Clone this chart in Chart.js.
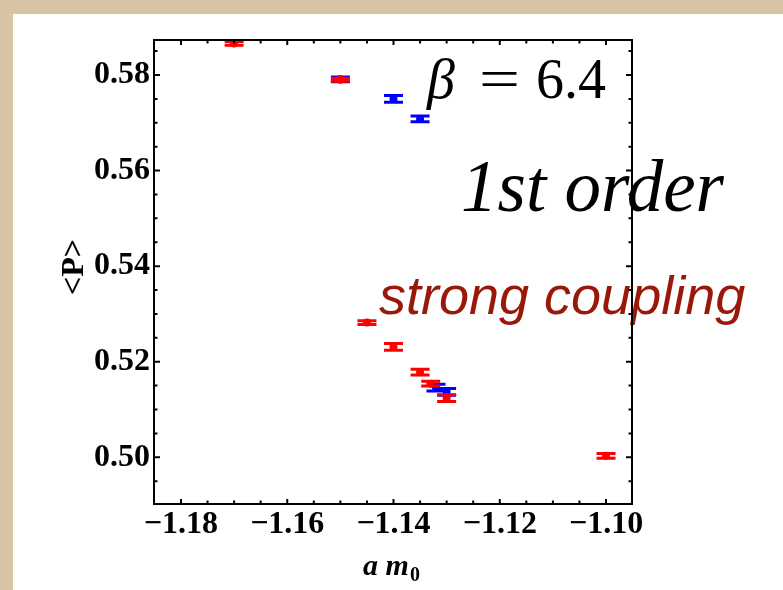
<!DOCTYPE html>
<html>
<head>
<meta charset="utf-8">
<script src="https://cdn.jsdelivr.net/npm/chart.js@4.4.1/dist/chart.umd.min.js"></script>
<style>
  html, body { margin: 0; padding: 0; }
  body { width: 783px; height: 590px; background: #d7c4a4; position: relative; overflow: hidden; }
  #page { position: absolute; left: 13px; top: 14px; width: 770px; height: 576px; background: #ffffff; }
  #plaquette { display: block; }
</style>
</head>
<body>
<div id="page">
  <canvas id="plaquette" width="770" height="576"></canvas>
</div>
<script>
// plaquette moyenne <P> en fonction de a m0, beta = 6.4
var redX   = [-1.17, -1.15, -1.145, -1.14, -1.135, -1.133, -1.13, -1.10];
var redP   = [0.5866, 0.5790, 0.5282, 0.5231, 0.5178, 0.5154, 0.5124, 0.5003];
var redErr = [0.0004, 0.0003, 0.0004, 0.0007, 0.0006, 0.0005, 0.0007, 0.0005];

var blueX   = [-1.15, -1.14, -1.135, -1.132, -1.13];
var blueP   = [0.5791, 0.5750, 0.5708, 0.5146, 0.5137];
var blueErr = [0.0005, 0.0007, 0.0006, 0.0007, 0.0007];

var xTicks = [-1.18, -1.16, -1.14, -1.12, -1.10];
var yTicks = [0.50, 0.52, 0.54, 0.56, 0.58];

var serif = "'Liberation Serif', 'Times New Roman', serif";
var sans = "'Liberation Sans', Arial, sans-serif";

function points(xs, ys) {
    return xs.map(function (x, i) { return { x: x, y: ys[i] }; });
}

function fmt(v) {
    var s = Math.abs(v).toFixed(2);
    return v < 0 ? '\u2212' + s : s;
}

// barres d'erreur, dessinees juste avant les points de chaque serie
var errorBars = {
    id: 'errorBars',
    beforeDatasetDraw: function (chart, args) {
        var ds = chart.data.datasets[args.index];
        var ctx = chart.ctx;
        var xs = chart.scales.x, ys = chart.scales.y;
        ctx.save();
        ctx.strokeStyle = ds.borderColor;
        ctx.lineWidth = 3;
        ds.data.forEach(function (p, i) {
            var px = xs.getPixelForValue(p.x);
            var top = ys.getPixelForValue(p.y + ds.errors[i]);
            var bot = ys.getPixelForValue(p.y - ds.errors[i]);
            ctx.beginPath();
            ctx.moveTo(px, top); ctx.lineTo(px, bot);
            ctx.moveTo(px - 9.5, top); ctx.lineTo(px + 9.5, top);
            ctx.moveTo(px - 9.5, bot); ctx.lineTo(px + 9.5, bot);
            ctx.stroke();
        });
        ctx.restore();
    }
};

// textes, cadre et graduations dans le style Mathematica
var frame = {
    id: 'frame',
    afterDatasetsDraw: function (chart) {
        var ctx = chart.ctx;
        ctx.save();
        ctx.textAlign = 'left';
        ctx.textBaseline = 'alphabetic';

        ctx.fillStyle = '#000';
        ctx.font = 'italic 56px ' + serif;
        ctx.fillText('\u03b2', 414, 84);
        ctx.font = '56px ' + serif;
        ctx.save();
        ctx.translate(466, 84);
        ctx.scale(1.3, 1);
        ctx.fillText('=', 0, 0);
        ctx.restore();
        ctx.fillText('6.4', 523, 84);

        ctx.font = 'italic 73px ' + serif;
        ctx.fillText('1st order', 448, 197);

        ctx.fillStyle = '#9a1809';
        ctx.font = 'italic 54px ' + sans;
        ctx.fillText('strong coupling', 366, 300);

        // titres des axes
        ctx.fillStyle = '#000';
        ctx.font = 'bold italic 30px ' + serif;
        ctx.fillText('a m', 350, 561);
        ctx.font = 'bold 20px ' + serif;
        ctx.fillText('0', 397, 567);

        ctx.save();
        ctx.translate(70, 253);
        ctx.rotate(-Math.PI / 2);
        ctx.textAlign = 'center';
        ctx.font = 'bold 32px ' + serif;
        ctx.fillText('<P>', 0, 0);
        ctx.restore();
        ctx.restore();
    },
    afterDraw: function (chart) {
        var ctx = chart.ctx;
        var a = chart.chartArea;
        var xs = chart.scales.x, ys = chart.scales.y;
        ctx.save();
        ctx.strokeStyle = '#000';
        ctx.lineWidth = 2;
        ctx.strokeRect(a.left, a.top, a.right - a.left, a.bottom - a.top);

        ctx.beginPath();
        var v, px, len, k;
        for (k = -237; k <= -219; k++) {
            v = k * 0.005;
            px = xs.getPixelForValue(v);
            if (px < a.left + 1 || px > a.right - 1) continue;
            len = (k % 4 === 0) ? 5 : 3.5;
            ctx.moveTo(px, a.bottom); ctx.lineTo(px, a.bottom - len);
            ctx.moveTo(px, a.top); ctx.lineTo(px, a.top + len);
        }
        for (k = 98; k <= 118; k++) {
            v = k * 0.005;
            px = ys.getPixelForValue(v);
            if (px < a.top + 1 || px > a.bottom - 1) continue;
            len = (k % 4 === 0) ? 6 : 3.5;
            ctx.moveTo(a.left, px); ctx.lineTo(a.left + len, px);
            ctx.moveTo(a.right, px); ctx.lineTo(a.right - len, px);
        }
        ctx.stroke();
        ctx.restore();
    }
};

var chartElem = document.getElementById('plaquette').getContext('2d');

new Chart(chartElem, {
    type: 'scatter',
    data: {
        datasets: [{
            label: 'rouge',
            data: points(redX, redP),
            errors: redErr,
            backgroundColor: '#ff0000',
            borderColor: '#ff0000',
            pointRadius: 4,
            pointBorderWidth: 0
        }, {
            label: 'bleu',
            data: points(blueX, blueP),
            errors: blueErr,
            backgroundColor: '#0000ff',
            borderColor: '#0000ff',
            pointRadius: 4,
            pointBorderWidth: 0
        }]
    },
    options: {
        responsive: false,
        animation: false,
        layout: { padding: { left: 0, right: 151, top: 26, bottom: 0 } },
        plugins: {
            legend: { display: false },
            tooltip: { enabled: false }
        },
        scales: {
            x: {
                type: 'linear',
                min: -1.18508,
                max: -1.09511,
                afterBuildTicks: function (scale) {
                    scale.ticks = xTicks.map(function (v) { return { value: v }; });
                },
                afterFit: function (scale) { scale.height = 86; },
                grid: { display: false, drawTicks: false },
                border: { display: false },
                ticks: {
                    padding: 2,
                    color: '#000',
                    maxRotation: 0,
                    font: { family: serif, weight: 'bold', size: 32 },
                    callback: function (v) { return fmt(v); }
                }
            },
            y: {
                type: 'linear',
                min: 0.49023,
                max: 0.58732,
                afterBuildTicks: function (scale) {
                    scale.ticks = yTicks.map(function (v) { return { value: v }; });
                },
                afterFit: function (scale) { scale.width = 141; },
                grid: { display: false, drawTicks: false },
                border: { display: false },
                ticks: {
                    padding: 4,
                    color: '#000',
                    font: { family: serif, weight: 'bold', size: 32 },
                    callback: function (v) { return fmt(v); }
                }
            }
        }
    },
    plugins: [errorBars, frame]
});
</script>
</body>
</html>
